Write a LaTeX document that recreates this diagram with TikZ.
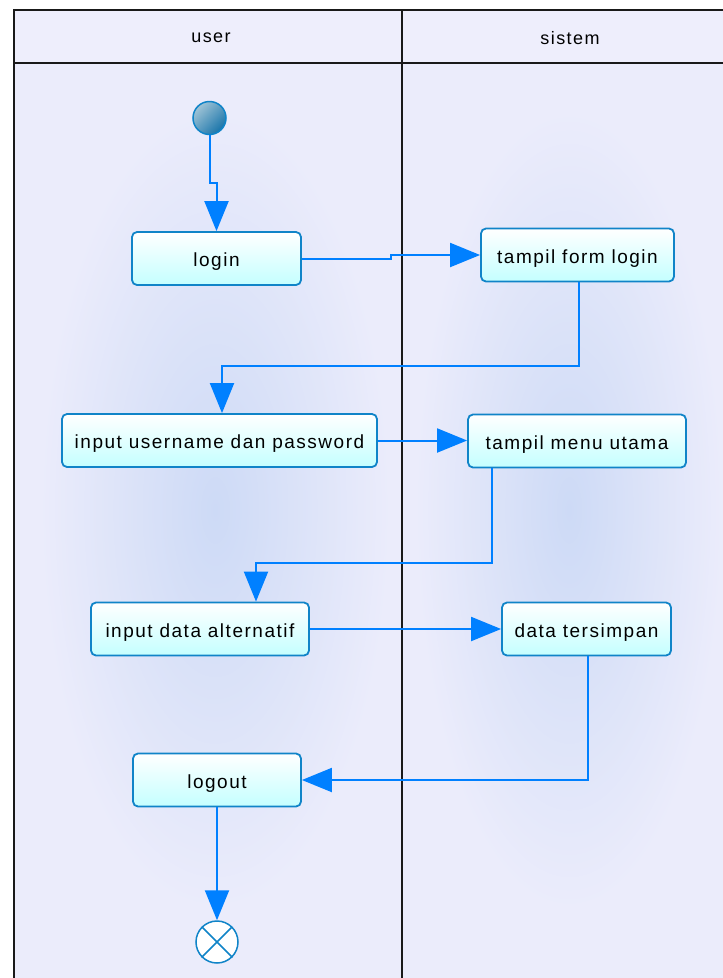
\documentclass[tikz,border=0pt]{standalone}
\usepackage{fontspec}
\setmainfont{Liberation Sans}[LetterSpace=8]
\usetikzlibrary{arrows.meta,calc}

\definecolor{lanehead}{RGB}{238,238,252}
\definecolor{laneback}{RGB}{235,236,251}
\definecolor{laneglow}{RGB}{205,218,246}
\definecolor{flow}{RGB}{0,128,255}
\definecolor{boxline}{RGB}{16,132,200}
\definecolor{boxfill}{RGB}{196,255,255}
\definecolor{startdark}{RGB}{24,116,170}
\definecolor{startlight}{RGB}{160,196,214}

\begin{document}
\begin{tikzpicture}[
  x=1pt, y=-1pt,
  laneborder/.style={draw=black!90, line width=2pt},
  activity/.style={draw=boxline, line width=1.8pt, rounded corners=5pt,
    top color=white, bottom color=boxfill, minimum height=53pt,
    inner sep=0pt, text height=18pt, text depth=2pt,
    font=\fontsize{19}{21}\selectfont},
  lanetitle/.style={font=\fontsize{18}{20}\selectfont},
  startnode/.style={circle, draw=boxline, line width=1.5pt, minimum size=33pt,
    inner sep=0pt, top color=startlight, bottom color=startdark, shading angle=45},
  endnode/.style={circle, draw=boxline, line width=1.5pt, fill=white,
    minimum size=42pt, inner sep=0pt},
  flowline/.style={draw=flow, line width=2pt, -{Triangle[length=30pt,width=24pt]}}
]
\useasboundingbox (0,0) rectangle (723,978);
\clip (0,0) rectangle (723,978);

% swimlanes
\fill[lanehead] (14,10) rectangle (740,63);
\fill[laneback] (14,63) rectangle (740,990);
\shade[inner color=laneglow, outer color=laneback] (40,110) rectangle (390,910);
\shade[inner color=laneglow, outer color=laneback] (415,110) rectangle (723,910);
\draw[laneborder] (14,990) |- (740,10);
\draw[laneborder] (14,63) -- (740,63);
\draw[laneborder] (402,10) -- (402,990);
\node[lanetitle] (usertitle) at (211,38) {user};
\node[lanetitle] (sistemtitle) at (570,38) {sistem};

% activities
\node[startnode] (start) at (209.5,118) {};
\node[activity, minimum width=169pt] (login) at (216.5,258.5) {login};
\node[activity, minimum width=193pt] (formlogin) at (577.5,255) {tampil form login};
\node[activity, minimum width=315pt] (username) at (219.5,440.5) {input username dan password};
\node[activity, minimum width=218pt] (menuutama) at (577,441) {tampil menu utama};
\node[activity, minimum width=218pt] (altdata) at (200,629) {input data alternatif};
\node[activity, minimum width=169pt] (tersimpan) at (586.5,629) {data tersimpan};
\node[activity, minimum width=168pt] (logout) at (217,780) {logout};
\node[endnode] (stop) at (217,942) {};
\draw[boxline, line width=1.5pt] (stop.north west) -- (stop.south east)
  (stop.north east) -- (stop.south west);

% flow
\draw[flowline] (start.south) |- ($(start.south)!.5!(login.north)$) -| (login.north);
\draw[flowline] (login.east) -| ($(login.east)!.5!(formlogin.west)$) |- (formlogin.west);
\draw[flowline] ([xshift=1.5pt]formlogin.south) -- ++(0,84) -| ([xshift=2.5pt]username.north);
\draw[flowline] (username.east) -- (username.east -| menuutama.west);
\draw[flowline] ([xshift=-85pt]menuutama.south) -- ++(0,95) -| ([xshift=56pt]altdata.north);
\draw[flowline] (altdata.east) -- (tersimpan.west);
\draw[flowline] ([xshift=1.5pt]tersimpan.south) |- (logout.east);
\draw[flowline] (logout.south) -- (stop.north);
\end{tikzpicture}
\end{document}
